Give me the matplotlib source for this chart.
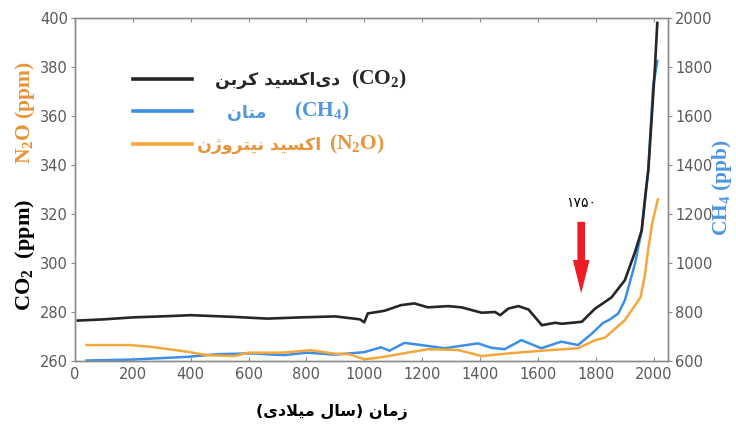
import matplotlib
matplotlib.use("Agg")
import matplotlib.pyplot as plt
from matplotlib.font_manager import FontProperties

plt.rcParams["mathtext.fontset"] = "custom"
plt.rcParams["mathtext.rm"] = "Liberation Serif:bold"
plt.rcParams["mathtext.it"] = "Liberation Serif:bold"
plt.rcParams["mathtext.bf"] = "Liberation Serif:bold"

# ---- data ----
co2_years = [10, 100, 200, 320, 400, 550, 665, 780, 900, 985, 1000, 1012, 1070, 1127,
             1173, 1220, 1290, 1336, 1406, 1452, 1470, 1498, 1533, 1568, 1614, 1660,
             1683, 1752, 1798, 1821, 1855, 1901, 1936, 1959, 1972, 1982, 1993, 2005, 2013]
co2_ppm = [276.5, 277.0, 277.8, 278.3, 278.7, 278.0, 277.3, 277.8, 278.2, 277.0, 275.8,
           279.4, 280.5, 282.8, 283.5, 281.9, 282.4, 281.9, 279.7, 280.0, 278.7, 281.4,
           282.4, 281.0, 274.6, 275.6, 275.2, 276.0, 281.4, 283.2, 286.0, 293.0, 304.5,
           313.3, 328.0, 338.0, 358.0, 380.0, 398.0]

ch4_years = [40, 200, 390, 495, 610, 723, 803, 897, 1000, 1058, 1087, 1139, 1197, 1277,
             1393, 1439, 1485, 1543, 1612, 1681, 1739, 1785, 1825, 1850, 1878, 1901,
             1936, 1959, 1972, 1982, 1990, 1999, 2005, 2013]
ch4_ppb = [602, 606, 617, 628, 631, 624, 634, 626, 636, 656, 642, 674, 665, 652, 672,
           654, 648, 685, 652, 679, 665, 710, 755, 770, 794, 848, 998, 1133, 1270, 1380,
           1550, 1730, 1765, 1825]

n2o_years = [40, 190, 262, 387, 456, 550, 600, 715, 815, 897, 946, 1000, 1058, 1150,
             1220, 1324, 1406, 1498, 1614, 1739, 1798, 1832, 1901, 1955, 1970, 1982,
             1995, 2005, 2015]
n2o_ppm = [266.5, 266.5, 265.8, 263.8, 262.4, 262.0, 263.4, 263.4, 264.4, 263.0, 262.8,
           260.7, 261.5, 263.4, 264.8, 264.5, 262.0, 263.1, 264.2, 265.2, 268.5, 269.5,
           276.7, 286.0, 295.0, 306.0, 316.0, 321.0, 326.0]

x_ticks = list(range(0, 2001, 200))
left_ticks = [260, 280, 300, 320, 340, 360, 380, 400]
right_ticks = [600, 800, 1000, 1200, 1400, 1600, 1800, 2000]
mark_year = 1750
mark_label = "۱۷۵۰"

legend_fa = ["دی\u200cاکسید کربن", "متان", "اکسید نیتروژن"]
legend_en = [r"(CO$_2$)", r"(CH$_4$)", r"(N$_2$O)"]
xlabel_fa = "زمان (سال میلادی)"

C_BLACK = "#262626"
C_BLUE = "#3c8fe6"
C_ORANGE = "#f4a73b"
C_BLUE_TXT = "#4f97e0"
C_ORANGE_TXT = "#e8943a"
C_TICK = "#5a5a5a"

# ---- minimal Persian shaping (matplotlib has no complex text layout) ----
FORMS = {
    "ا": ("\uFE8D", "\uFE8E"), "د": ("\uFEA9", "\uFEAA"), "ر": ("\uFEAD", "\uFEAE"),
    "ز": ("\uFEAF", "\uFEB0"), "ژ": ("\uFB8A", "\uFB8B"), "و": ("\uFEED", "\uFEEE"),
    "ب": ("\uFE8F", "\uFE90", "\uFE91", "\uFE92"), "ت": ("\uFE95", "\uFE96", "\uFE97", "\uFE98"),
    "س": ("\uFEB1", "\uFEB2", "\uFEB3", "\uFEB4"), "ل": ("\uFEDD", "\uFEDE", "\uFEDF", "\uFEE0"),
    "م": ("\uFEE1", "\uFEE2", "\uFEE3", "\uFEE4"), "ن": ("\uFEE5", "\uFEE6", "\uFEE7", "\uFEE8"),
    "ک": ("\uFB8E", "\uFB8F", "\uFB90", "\uFB91"), "ی": ("\uFBFC", "\uFBFD", "\uFBFE", "\uFBFF"),
}
MIRROR = {"(": ")", ")": "("}


def shape(text):
    res = []
    i = 0
    n = len(text)
    while i < n:
        c = text[i]
        if c not in FORMS:
            if c != "\u200c":
                res.append(MIRROR.get(c, c))
            i += 1
            continue
        prev = text[i - 1] if i > 0 else None
        nxt = text[i + 1] if i + 1 < n else None
        joins_prev = prev in FORMS and len(FORMS[prev]) == 4
        if c == "ل" and nxt == "ا":
            res.append("\uFEFC" if joins_prev else "\uFEFB")
            i += 2
            continue
        f = FORMS[c]
        joins_next = len(f) == 4 and nxt in FORMS
        if joins_prev and joins_next:
            g = f[3]
        elif joins_prev:
            g = f[1]
        elif joins_next:
            g = f[2]
        else:
            g = f[0]
        res.append(g)
        i += 1
    return "".join(reversed(res))


fig = plt.figure(figsize=(7.36, 4.26), dpi=100)
ax = fig.add_axes([0.1019, 0.1526, 0.8057, 0.8051])
ax2 = ax.twinx()

l1, = ax.plot(co2_years, co2_ppm, color=C_BLACK, lw=1.9, zorder=3)
l3, = ax.plot(n2o_years, n2o_ppm, color=C_ORANGE, lw=1.8, zorder=2)
l2, = ax2.plot(ch4_years, ch4_ppb, color=C_BLUE, lw=1.8, zorder=2)
ax.set_zorder(ax2.get_zorder() + 1)
ax.patch.set_visible(False)

ax.set_xlim(0, 2050)
ax.set_ylim(260, 400)
ax2.set_ylim(600, 2000)
ax.set_xticks(x_ticks)
ax.set_yticks(left_ticks)
ax2.set_yticks(right_ticks)

for a in (ax, ax2):
    for s in a.spines.values():
        s.set_color("#8c8c8c")
        s.set_linewidth(1.0)
ax.tick_params(axis="x", which="both", direction="in", top=True, length=3,
               color="#8c8c8c", labelsize=10.5, labelcolor=C_TICK, pad=4)
ax.tick_params(axis="y", direction="out", length=3, color="#8c8c8c",
               labelsize=10.5, labelcolor=C_TICK, pad=2)
ax2.tick_params(axis="y", direction="out", length=3, color="#8c8c8c",
                labelsize=10.5, labelcolor=C_TICK, pad=2)

# red arrow at 1750
ax.annotate("", xy=(mark_year, 287.6), xytext=(mark_year, 316.8),
            arrowprops=dict(facecolor="#ee1c24", edgecolor="none", width=5.5,
                            headwidth=12, headlength=24, shrink=0))
ax.text(mark_year, 324.3, mark_label, ha="center", va="center", fontsize=10,
        family=["DejaVu Sans"])

# legend: Persian part inside the legend, Latin formula placed to its right
lead = ["   ", "     ", ""]
labels = [p + shape(w) for p, w in zip(lead, legend_fa)]
leg = ax.legend([l1, l2, l3], labels, loc="upper left", bbox_to_anchor=(0.0975, 0.845),
                frameon=False, handlelength=3.4, handletextpad=0.3, labelspacing=0.82,
                borderpad=0, borderaxespad=0,
                prop=FontProperties(family="DejaVu Sans", weight="bold", size=12.5))
text_colors = [C_BLACK, C_BLUE_TXT, C_ORANGE_TXT]
for t, c in zip(leg.get_texts(), text_colors):
    t.set_color(c)
for h in leg.legend_handles:
    h.set_linewidth(2.6)

fig.canvas.draw()
renderer = fig.canvas.get_renderer()
gaps_px = [11, 28, 8]
to_fig = fig.transFigure.inverted()
for t, c, en, g in zip(leg.get_texts(), text_colors, legend_en, gaps_px):
    bb = t.get_window_extent(renderer)
    fx, fy = to_fig.transform((bb.x1 + g, bb.y0 + 0.55 * bb.height))
    fig.text(fx, fy, en, ha="left", va="center", fontsize=15.5, fontweight="bold",
             family=["Liberation Serif", "DejaVu Serif"], color=c)

serif = ["Liberation Serif", "DejaVu Serif"]
fig.text(0.034, 0.401, r"CO$_2$  (ppm)", rotation=90, ha="center", va="center",
         fontsize=16, fontweight="bold", family=serif, color="black")
fig.text(0.034, 0.735, r"N$_2$O (ppm)", rotation=90, ha="center", va="center",
         fontsize=15.5, fontweight="bold", family=serif, color=C_ORANGE_TXT)
fig.text(0.981, 0.559, r"CH$_4$ (ppb)", rotation=90, ha="center", va="center",
         fontsize=15.5, fontweight="bold", family=serif, color=C_BLUE_TXT)
fig.text(0.451, 0.033, shape(xlabel_fa), ha="center", va="center",
         fontsize=11.5, fontweight="bold", family=["DejaVu Sans"])

fig.savefig("out.png", dpi=100)
